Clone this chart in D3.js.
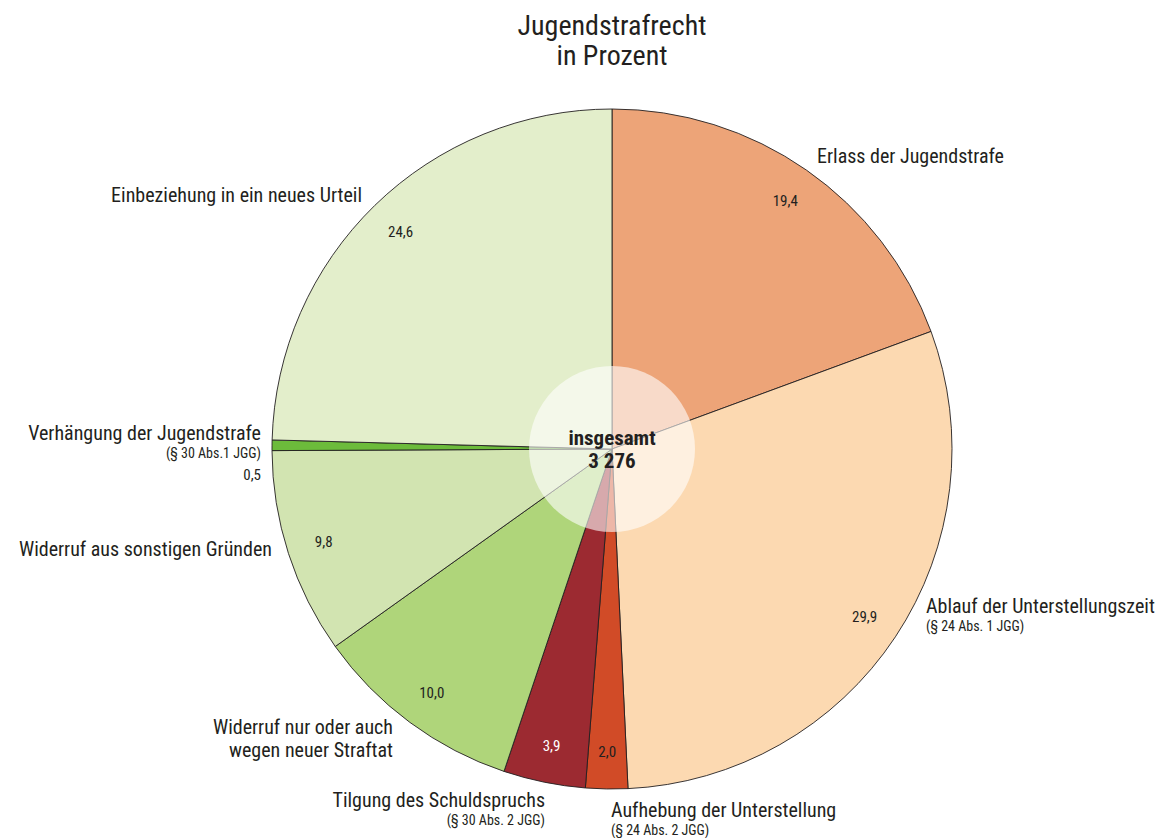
<!DOCTYPE html>
<html>
<head>
<meta charset="utf-8">
<script src="https://cdn.jsdelivr.net/npm/d3@7"></script>
<style>
  body { margin: 0; background: #fff; }
  svg text { font-family: "Liberation Sans Narrow", "Arial Narrow", "Roboto Condensed", sans-serif; fill: #231f20; }
</style>
</head>
<body>
<div id="chart"></div>
<script>
// data
var categories = [
  "Erlass der Jugendstrafe",
  "Ablauf der Unterstellungszeit",
  "Aufhebung der Unterstellung",
  "Tilgung des Schuldspruchs",
  "Widerruf nur oder auch|wegen neuer Straftat",
  "Widerruf aus sonstigen Gründen",
  "Verhängung der Jugendstrafe",
  "Einbeziehung in ein neues Urteil"
];
var subLabels = ["", "(§ 24 Abs. 1 JGG)", "(§ 24 Abs. 2 JGG)", "(§ 30 Abs. 2 JGG)", "", "", "(§ 30 Abs.1 JGG)", ""];
var values = [19.4, 29.9, 2.0, 3.9, 10.0, 9.8, 0.5, 24.6];
var colors = ["#eda478", "#fcd9b1", "#d14b27", "#9c2a31", "#afd57a", "#d2e4b1", "#6cbb3b", "#e3eecb"];
var total = "3 276";

var width = 1162, height = 838;
var cx = 612, cy = 449, radius = 340;

// where the category labels go (x, y of first line, anchor)
var labelPos = [
  { x: 817, y: 163, anchor: "start" },
  { x: 926, y: 613, anchor: "start" },
  { x: 611, y: 817, anchor: "start" },
  { x: 545, y: 807, anchor: "end" },
  { x: 393, y: 734, anchor: "end" },
  { x: 272, y: 556, anchor: "end" },
  { x: 261, y: 440, anchor: "end" },
  { x: 362, y: 202, anchor: "end" }
];

var fmt = function(v){ return d3.format(".1f")(v).replace(".", ","); };

var svg = d3.select("#chart").append("svg")
  .attr("width", width)
  .attr("height", height);

svg.append("text")
  .attr("x", cx).attr("y", 35)
  .attr("text-anchor", "middle")
  .style("font-size", "28px")
  .text("Jugendstrafrecht");
svg.append("text")
  .attr("x", cx).attr("y", 65)
  .attr("text-anchor", "middle")
  .style("font-size", "28px")
  .text("in Prozent");

var pie = d3.pie().sort(null).value(function(d){ return d; });
var arcs = pie(values);
var arc = d3.arc().innerRadius(0).outerRadius(radius);
var labelArc = d3.arc().innerRadius(303).outerRadius(303);

var g = svg.append("g").attr("transform", "translate(" + cx + "," + cy + ")");

g.selectAll("path.slice")
  .data(arcs)
  .enter().append("path")
  .attr("class", "slice")
  .attr("d", arc)
  .attr("fill", function(d, i){ return colors[i]; })
  .attr("stroke", "#231f20")
  .attr("stroke-width", 0.9);

// value labels (0,5 goes outside, next to its category label)
g.selectAll("text.val")
  .data(arcs.filter(function(d){ return d.value >= 1; }))
  .enter().append("text")
  .attr("class", "val")
  .attr("transform", function(d){ return "translate(" + labelArc.centroid(d) + ")"; })
  .attr("text-anchor", "middle")
  .attr("dy", "0.35em")
  .style("font-size", "15px")
  .style("fill", function(d){ return d.index === 3 ? "#fff" : "#231f20"; })
  .text(function(d){ return fmt(d.value); });

// center disc
g.append("circle")
  .attr("r", 83)
  .attr("fill", "#fff")
  .attr("fill-opacity", 0.6);
g.append("text")
  .attr("y", -4)
  .attr("text-anchor", "middle")
  .style("font-size", "21px")
  .style("font-weight", "bold")
  .text("insgesamt");
g.append("text")
  .attr("y", 19)
  .attr("text-anchor", "middle")
  .style("font-size", "21px")
  .style("font-weight", "bold")
  .text(total);

// category labels
var lab = svg.selectAll("g.lab")
  .data(categories)
  .enter().append("g")
  .attr("class", "lab");

lab.each(function(name, i){
  var p = labelPos[i];
  var sel = d3.select(this);
  var lines = name.split("|");
  lines.forEach(function(l, j){
    sel.append("text")
      .attr("x", p.x).attr("y", p.y + j * 23)
      .attr("text-anchor", p.anchor)
      .style("font-size", "20px")
      .text(l);
  });
  var y = p.y + (lines.length - 1) * 23;
  if (subLabels[i]) {
    y += 18;
    sel.append("text")
      .attr("x", p.x).attr("y", y)
      .attr("text-anchor", p.anchor)
      .style("font-size", "14px")
      .text(subLabels[i]);
  }
  if (values[i] < 1) {
    sel.append("text")
      .attr("x", p.x).attr("y", y + 22)
      .attr("text-anchor", p.anchor)
      .style("font-size", "15px")
      .text(fmt(values[i]));
  }
});
</script>
</body>
</html>
